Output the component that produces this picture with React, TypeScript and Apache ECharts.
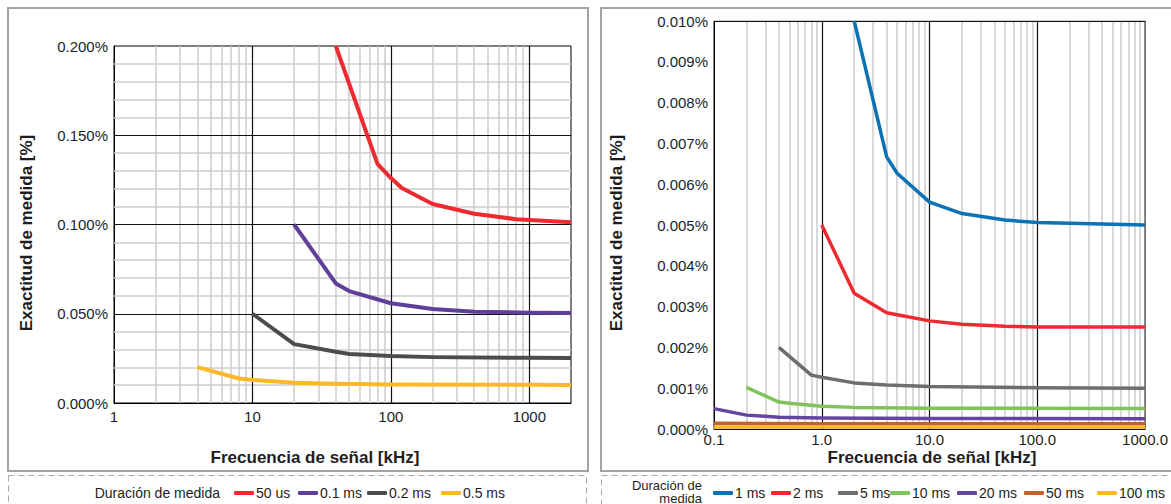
import React, { useEffect, useRef } from 'react';
import * as echarts from 'echarts';

const FONT = "'Liberation Sans', Arial, Helvetica, sans-serif";
const TXT = '#1e1e1e';

// ---------- Left chart data (x: kHz, y: %) ----------
const leftNames = ['50 us', '0.1 ms', '0.2 ms', '0.5 ms'];
const leftColors = ['#ED2A30', '#5F3F99', '#4B4C4E', '#FDB827'];
const left50us: [number, number][] = [[40, 0.2], [80, 0.134], [100, 0.126], [120, 0.1205], [200, 0.1115], [400, 0.106], [800, 0.103], [2000, 0.1012]];
const left01ms: [number, number][] = [[20, 0.1], [40, 0.067], [50, 0.0627], [100, 0.0559], [200, 0.0527], [400, 0.0511], [1000, 0.0506], [2000, 0.0504]];
const left02ms: [number, number][] = [[10, 0.05], [20, 0.033], [40, 0.0287], [50, 0.0275], [100, 0.0263], [200, 0.0257], [1000, 0.0253], [2000, 0.0252]];
const left05ms: [number, number][] = [[4, 0.0201], [8, 0.0137], [10, 0.0129], [20, 0.0114], [40, 0.0108], [100, 0.0104], [1000, 0.0102], [2000, 0.0101]];
const leftData = [left50us, left01ms, left02ms, left05ms];

// ---------- Right chart data ----------
const rightNames = ['1 ms', '2 ms', '5 ms', '10 ms', '20 ms', '50 ms', '100 ms'];
const rightColors = ['#0B72B6', '#ED2A30', '#6D6E70', '#80C35B', '#6246A0', '#C2622A', '#FDB827'];
const right1ms: [number, number][] = [[2, 0.01], [4, 0.00667], [5, 0.00627], [10, 0.00556], [20, 0.00528], [50, 0.00512], [100, 0.00506], [1000, 0.005]];
const right2ms: [number, number][] = [[1, 0.005], [2, 0.00333], [4, 0.00285], [5, 0.0028], [10, 0.00265], [20, 0.00257], [50, 0.00252], [100, 0.0025], [1000, 0.0025]];
const right5ms: [number, number][] = [[0.4, 0.002], [0.8, 0.00132], [1, 0.00127], [2, 0.00113], [4, 0.00108], [10, 0.00104], [100, 0.00101], [1000, 0.001]];
const right10ms: [number, number][] = [[0.2, 0.00102], [0.4, 0.00066], [0.5, 0.00063], [1, 0.00056], [2, 0.00053], [10, 0.00051], [1000, 0.0005]];
const right20ms: [number, number][] = [[0.1, 0.0005], [0.2, 0.00034], [0.4, 0.00029], [1, 0.00027], [10, 0.00026], [1000, 0.00025]];
const right50ms: [number, number][] = [[0.1, 0.00014], [1, 0.00013], [1000, 0.00013]];
const right100ms: [number, number][] = [[0.1, 0.00005], [1, 0.00005], [1000, 0.00005]];
const rightData = [right1ms, right2ms, right5ms, right10ms, right20ms, right50ms, right100ms];

// ---------- Axis / tick definitions ----------
const leftXMin = 1, leftXMax = 2000;
const leftYMax = 0.2, leftYStep = 0.05, leftYMinor = 0.01;
const rightXMin = 0.1, rightXMax = 1000;
const rightYMax = 0.01, rightYStep = 0.001, rightYMinor = 0.0005;

// legend item left positions (px)
const leftLegendX = [234, 298, 367, 441];
const rightLegendX = [713, 771, 838, 890, 957, 1024, 1097];

function logMinor(min: number, max: number) {
  const out: number[] = [];
  for (let d = min; d < max; d *= 10) {
    for (let k = 2; k <= 9; k++) {
      const v = +(d * k).toPrecision(6);
      if (v < max) out.push(v);
    }
  }
  return out;
}
function logMajor(min: number, max: number) {
  const out: number[] = [];
  for (let d = min * 10; d < max * 0.999; d *= 10) out.push(+d.toPrecision(6));
  return out;
}
function linSteps(step: number, max: number, skip?: number) {
  const out: number[] = [];
  const n = Math.round(max / step);
  for (let i = 1; i < n; i++) {
    const v = +(i * step).toPrecision(6);
    if (skip && Math.abs(v / skip - Math.round(v / skip)) < 1e-6) continue;
    out.push(v);
  }
  return out;
}
const isDecade = (v: number) => Math.abs(Math.log10(v) - Math.round(Math.log10(v))) < 1e-6;

function gridSeries(idx: number, xs: number[], ys: number[], color: string, width: number, z: number, name: string) {
  return {
    type: 'line',
    name,
    xAxisIndex: idx,
    yAxisIndex: idx,
    data: [],
    silent: true,
    z,
    markLine: {
      silent: true,
      symbol: ['none', 'none'],
      label: { show: false },
      emphasis: { disabled: true },
      lineStyle: { color, width, type: 'solid' },
      data: [...xs.map((v) => ({ xAxis: v })), ...ys.map((v) => ({ yAxis: v }))],
    },
  };
}

export default function App() {
  const ref = useRef<HTMLDivElement>(null);
  useEffect(() => {
    if (!ref.current) return;
    const chart = echarts.init(ref.current, undefined, { renderer: 'svg' });

    const axisLabelY = (digits: number) => ({
      fontFamily: FONT,
      fontSize: 15,
      color: TXT,
      margin: 6,
      formatter: (v: number) => v.toFixed(digits) + '%',
    });

    const series: any[] = [
      gridSeries(0, logMinor(leftXMin, leftXMax), linSteps(leftYMinor, leftYMax, leftYStep), '#cdcdcd', 1.5, 1, 'gl0'),
      gridSeries(0, logMajor(leftXMin, leftXMax), linSteps(leftYStep, leftYMax), '#111111', 1.2, 2, 'gm0'),
      gridSeries(1, logMinor(rightXMin, rightXMax), linSteps(rightYMinor, rightYMax, rightYStep), '#cdcdcd', 1.5, 1, 'gl1'),
      gridSeries(1, logMajor(rightXMin, rightXMax), linSteps(rightYStep, rightYMax), '#111111', 1.2, 2, 'gm1'),
    ];
    leftData.forEach((d, i) =>
      series.push({
        type: 'line', name: leftNames[i], xAxisIndex: 0, yAxisIndex: 0, data: d,
        showSymbol: false, symbol: 'none', z: 5, clip: true,
        lineStyle: { color: leftColors[i], width: 4, join: 'round' }, itemStyle: { color: leftColors[i] },
      })
    );
    rightData.forEach((d, i) =>
      series.push({
        type: 'line', name: rightNames[i], xAxisIndex: 1, yAxisIndex: 1, data: d,
        showSymbol: false, symbol: 'none', z: 5, clip: true,
        lineStyle: { color: rightColors[i], width: 3.5, join: 'round' }, itemStyle: { color: rightColors[i] },
      })
    );

    const legendItem = (name: string, x: number) => ({
      icon: 'roundRect',
      itemWidth: 20,
      itemHeight: 4,
      padding: 0,
      selectedMode: false,
      left: x,
      top: 486,
      textStyle: { fontFamily: FONT, fontSize: 14, color: TXT, padding: [0, 0, 0, -3] },
      data: [name],
    });

    chart.setOption({
      animation: false,
      backgroundColor: '#ffffff',
      grid: [
        { left: 114, top: 46, width: 457, height: 357, show: true, borderColor: '#000', borderWidth: 1, containLabel: false },
        { left: 714, top: 21, width: 435, height: 408, show: true, borderColor: '#000', borderWidth: 1, containLabel: false },
      ],
      xAxis: [
        {
          type: 'log', logBase: 10, gridIndex: 0, min: leftXMin, max: leftXMax,
          axisLine: { show: true, lineStyle: { color: '#000', width: 1 } },
          axisTick: { show: false }, splitLine: { show: false },
          axisLabel: { fontFamily: FONT, fontSize: 15, color: TXT, margin: 6, formatter: (v: number) => (isDecade(v) ? String(Math.round(v)) : '') },
        },
        {
          type: 'log', logBase: 10, gridIndex: 1, min: rightXMin, max: rightXMax,
          axisLine: { show: true, lineStyle: { color: '#000', width: 1 } },
          axisTick: { show: false }, splitLine: { show: false },
          axisLabel: { fontFamily: FONT, fontSize: 15, color: TXT, margin: 3, formatter: (v: number) => (isDecade(v) ? v.toFixed(1) : '') },
        },
      ],
      yAxis: [
        {
          type: 'value', gridIndex: 0, min: 0, max: leftYMax, interval: leftYStep,
          axisLine: { show: true, lineStyle: { color: '#000', width: 1 } },
          axisTick: { show: false }, splitLine: { show: false },
          axisLabel: axisLabelY(3),
        },
        {
          type: 'value', gridIndex: 1, min: 0, max: rightYMax, interval: rightYStep,
          axisLine: { show: true, lineStyle: { color: '#000', width: 1 } },
          axisTick: { show: false }, splitLine: { show: false },
          axisLabel: axisLabelY(3),
        },
      ],
      legend: [
        ...leftNames.map((n, i) => legendItem(n, leftLegendX[i])),
        ...rightNames.map((n, i) => legendItem(n, rightLegendX[i])),
      ],
      graphic: [
        { type: 'rect', z: 0, shape: { x: 8, y: 8, width: 580, height: 463 }, style: { fill: 'none', stroke: '#a3a3a3', lineWidth: 2 } },
        { type: 'rect', z: 0, shape: { x: 601, y: 8, width: 580, height: 463 }, style: { fill: 'none', stroke: '#a3a3a3', lineWidth: 2 } },
        { type: 'rect', z: 0, shape: { x: 8.5, y: 475.5, width: 578, height: 60 }, style: { fill: 'none', stroke: '#a8a8a8', lineWidth: 1, lineDash: [6, 4] } },
        { type: 'rect', z: 0, shape: { x: 601.5, y: 475.5, width: 600, height: 60 }, style: { fill: 'none', stroke: '#a8a8a8', lineWidth: 1, lineDash: [6, 4] } },
        {
          type: 'text', x: 26, y: 233, rotation: Math.PI / 2,
          style: { text: 'Exactitud de medida [%]', font: `bold 17px ${FONT}`, fill: TXT, align: 'center', verticalAlign: 'middle' },
        },
        {
          type: 'text', x: 616, y: 233, rotation: Math.PI / 2,
          style: { text: 'Exactitud de medida [%]', font: `bold 17px ${FONT}`, fill: TXT, align: 'center', verticalAlign: 'middle' },
        },
        {
          type: 'text', x: 315, y: 457,
          style: { text: 'Frecuencia de señal [kHz]', font: `bold 17px ${FONT}`, fill: TXT, align: 'center', verticalAlign: 'middle' },
        },
        {
          type: 'text', x: 932, y: 457,
          style: { text: 'Frecuencia de señal [kHz]', font: `bold 17px ${FONT}`, fill: TXT, align: 'center', verticalAlign: 'middle' },
        },
        {
          type: 'text', x: 220, y: 493,
          style: { text: 'Duración de medida', font: `14px ${FONT}`, fill: TXT, align: 'right', verticalAlign: 'middle' },
        },
        {
          type: 'text', x: 702, y: 492,
          style: { text: 'Duración de\nmedida', font: `13px ${FONT}`, fill: TXT, align: 'right', verticalAlign: 'middle', lineHeight: 13 },
        },
      ],
      series,
    });
    return () => chart.dispose();
  }, []);
  return <div ref={ref} style={{ position: 'absolute', left: 0, top: 0, width: 1171, height: 504 }} />;
}
